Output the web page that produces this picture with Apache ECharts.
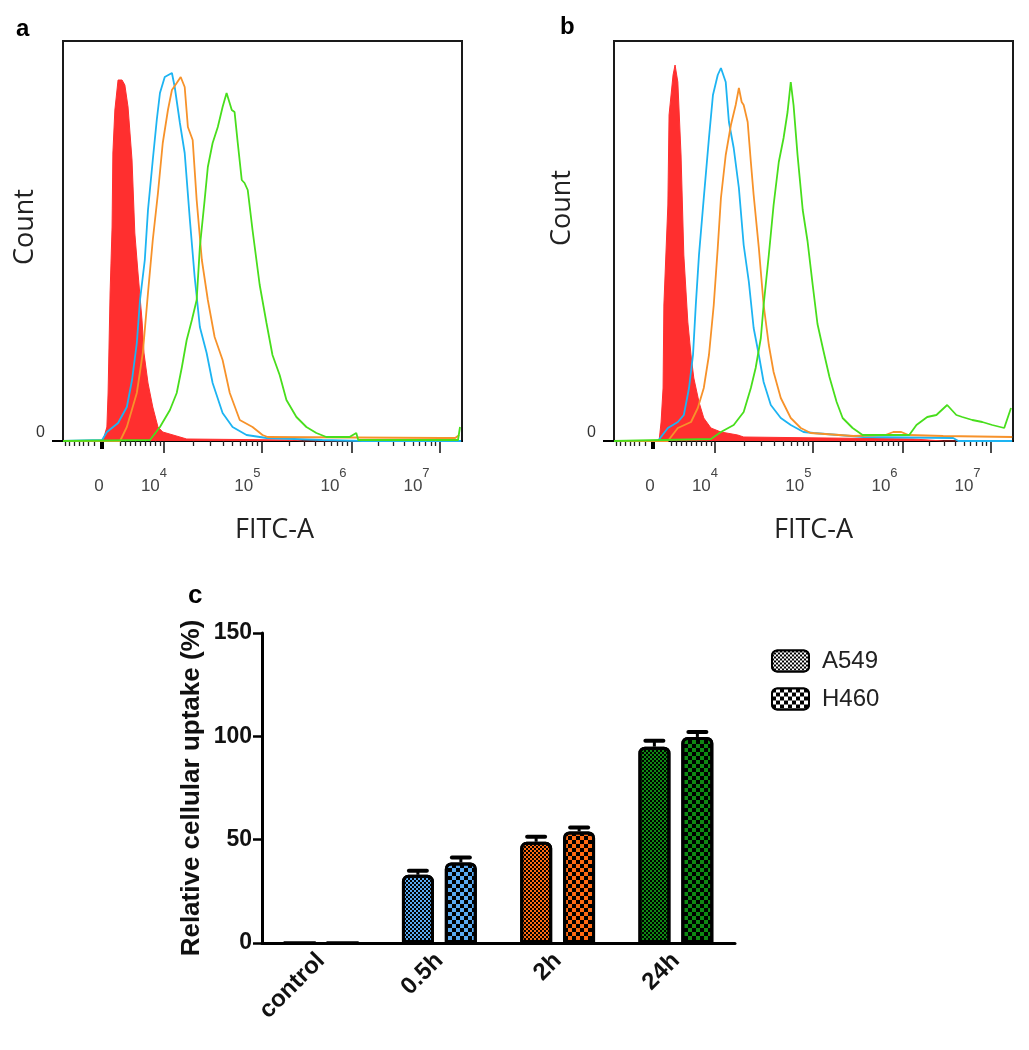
<!DOCTYPE html>
<html><head><meta charset="utf-8">
<script src="https://cdn.jsdelivr.net/npm/echarts@6/dist/echarts.min.js"></script>
<style>html,body{margin:0;padding:0;background:#fff}#c{width:1029px;height:1050px}</style>
</head><body><div id="c"></div>
<script>
// ---- Flow cytometry histograms: [FITC-A channel (display scale 0-1000), count] ----
const ctrlA = [[0,0],[100,0],[110,14],[113,48],[118,148],[123,214],[125,288],[130,331],[138,361],[148,361],[155,356],[163,334],[173,281],[180,208],[188,168],[198,121],[203,88],[213,58],[225,34],[238,14],[250,9],[293,4],[310,2],[575,1],[600,0],[998,0]];
const halfHA = [[0,0],[98,1],[110,9],[138,18],[160,34],[173,61],[185,98],[193,141],[205,181],[213,231],[225,281],[235,321],[243,348],[255,364],[273,368],[280,354],[293,318],[305,288],[318,221],[330,164],[343,114],[360,88],[375,58],[400,28],[425,14],[460,6],[510,3],[650,1],[750,0],[998,0]];
const twoHA = [[0,0],[143,0],[160,14],[185,48],[200,88],[213,148],[225,201],[238,248],[250,298],[263,331],[273,351],[285,358],[295,364],[305,354],[313,314],[325,301],[335,241],[348,181],[363,141],[380,104],[400,81],[418,48],[443,21],[475,14],[500,6],[513,4],[950,3],[983,3],[993,6]];
const dayA = [[0,0],[218,1],[243,14],[268,31],[285,48],[298,74],[310,101],[323,121],[335,141],[343,194],[355,241],[363,274],[375,298],[388,314],[400,334],[410,348],[423,331],[430,329],[438,298],[448,261],[455,258],[463,251],[475,211],[493,156],[510,118],[525,86],[543,66],[560,41],[585,24],[610,14],[635,8],[660,4],[718,4],[735,8],[740,1],[990,1],[995,14]];

const ctrlB = [[0,0],[113,0],[118,19],[123,53],[125,136],[135,236],[138,326],[148,366],[153,376],[160,359],[168,286],[175,186],[185,119],[193,86],[200,63],[213,39],[225,23],[243,13],[268,9],[310,6],[325,4],[750,2],[825,0],[998,0]];
const halfHB = [[0,0],[110,0],[135,13],[160,19],[175,26],[188,53],[198,86],[205,136],[213,186],[225,243],[238,303],[248,346],[260,366],[268,373],[280,359],[288,319],[300,293],[313,253],[325,196],[338,159],[350,113],[363,86],[375,59],[393,36],[418,23],[443,16],[475,9],[500,8],[625,4],[850,3],[863,0],[998,0]];
const twoHB = [[0,0],[135,0],[160,13],[193,19],[210,33],[225,53],[238,86],[250,136],[260,193],[268,243],[280,286],[293,316],[305,336],[313,353],[320,339],[325,336],[335,319],[343,279],[350,246],[363,193],[375,136],[388,96],[400,69],[418,43],[443,23],[468,13],[493,8],[600,5],[680,6],[700,9],[720,9],[738,6],[825,5],[998,4]];
const dayB = [[0,0],[243,2],[268,9],[300,16],[325,29],[343,53],[355,73],[368,103],[375,136],[388,186],[400,236],[413,279],[425,303],[435,329],[443,359],[450,336],[460,286],[473,231],[485,200],[498,156],[510,117],[525,90],[540,64],[558,39],[573,23],[598,13],[623,6],[740,6],[758,16],[785,24],[808,26],[835,36],[858,26],[873,24],[898,21],[923,19],[948,16],[978,13],[995,33]];

// ---- FITC-A axis ticks / labels (display-scale positions) ----
const xZeroTick = [97];
const xMajorTicks = [253, 498, 723, 943];
const xMinorTicks = [5,15,28,40,52,64,78,143,155,168,180,193,205,218,230,243,327,370,401,424,444,460,474,486,566,605,633,655,673,688,701,712,789,828,855,877,894,909,922,933];
const xLabelPos = [90, 228, 462, 678, 886];
const xLabelBase = ['0','10','10','10','10'];
const xLabelExp = ['','4','5','6','7'];
const countTicks = [0];

// ---- Panel c: relative cellular uptake ----
const categories = ['control','0.5h','2h','24h'];
const a549 = [0, 33, 49, 95];
const h460 = [0, 39, 54, 99.7];
const a549Err = [0, 2, 2.4, 2.9];
const h460Err = [0, 2.4, 1.9, 2.4];

const catColors = ['#5aaaf2', '#5aaaf2', '#ff6a12', '#0e8a12'];
const RED = '#ff2f2f', BLUE = '#1db4f2', ORANGE = '#f7922a', GREEN = '#48de1c';

const chart = echarts.init(document.getElementById('c'), null, {renderer: 'canvas'});

function histAxes(grid, namePad) {
  const labelFmt = (v) => {
    const i = xLabelPos.indexOf(v);
    if (i < 0) return '';
    return '{m|' + xLabelBase[i] + '}' + (xLabelExp[i] ? '{s|' + xLabelExp[i] + '}' : '');
  };
  return [
    { gridIndex: grid, type: 'value', min: 0, max: 1000, position: 'bottom',
      name: 'FITC-A', nameLocation: 'middle', nameGap: 76, nameMoveOverlap: false,
      nameTextStyle: {fontFamily: 'Open Sans', fontSize: 27, color: '#222', padding: [0, 0, 0, namePad]},
      axisLine: {show: true, onZero: false, lineStyle: {color: '#000', width: 2}},
      axisTick: {show: true, customValues: xMajorTicks, length: 12, lineStyle: {color: '#111', width: 1.5}},
      axisLabel: {show: true, customValues: xLabelPos, formatter: labelFmt, margin: 26,
        rich: {
          m: {fontFamily: 'Liberation Sans', fontSize: 17, color: '#444', lineHeight: 28, verticalAlign: 'bottom'},
          s: {fontFamily: 'Liberation Sans', fontSize: 13, color: '#444', lineHeight: 28, verticalAlign: 'top'}
        }},
      splitLine: {show: false} },
    { gridIndex: grid, type: 'value', min: 0, max: 1000, position: 'bottom',
      axisLine: {show: false},
      axisTick: {show: true, customValues: xMinorTicks, length: 5, lineStyle: {color: '#222', width: 1.3}},
      axisLabel: {show: false}, splitLine: {show: false} },
    { gridIndex: grid, type: 'value', min: 0, max: 1000, position: 'bottom',
      axisLine: {show: false},
      axisTick: {show: true, customValues: xZeroTick, length: 8, lineStyle: {color: '#000', width: 4}},
      axisLabel: {show: false}, splitLine: {show: false} }
  ];
}

function histY(grid, gap, pad) {
  return { gridIndex: grid, type: 'value', min: 0, max: 400,
    name: 'Count', nameLocation: 'middle', nameGap: gap, nameRotate: 90, nameMoveOverlap: false,
    nameTextStyle: {fontFamily: 'Open Sans', fontSize: 27, color: '#222', padding: [0, 0, 0, pad]},
    axisLine: {show: false},
    axisTick: {show: true, customValues: countTicks, length: 11, lineStyle: {color: '#000', width: 2}},
    axisLabel: {show: true, customValues: countTicks, formatter: (v) => String(v), margin: 18,
      verticalAlign: 'bottom', fontFamily: 'Liberation Sans', fontSize: 16, color: '#333'},
    splitLine: {show: false} };
}

function histSeries(xi, yi, data, color, fill) {
  const s = { type: 'line', xAxisIndex: xi, yAxisIndex: yi, data: data, symbol: 'none',
    silent: true, animation: false,
    lineStyle: {color: color, width: fill ? 1 : 1.8}, itemStyle: {color: color} };
  if (fill) s.areaStyle = {color: color, opacity: 1};
  return s;
}

function errBar(off) {
  return function (params, api) {
    const err = api.value(2);
    if (!err) return null;
    const base = api.coord([api.value(0), api.value(1)]);
    const top = api.coord([api.value(0), api.value(1) + err]);
    const x = base[0] + off;
    return { type: 'group', children: [
      {type: 'line', shape: {x1: x, y1: base[1], x2: x, y2: top[1]}, style: {stroke: '#000', lineWidth: 3}},
      {type: 'line', shape: {x1: x - 9, y1: top[1], x2: x + 9, y2: top[1]}, style: {stroke: '#000', lineWidth: 4, lineCap: 'round'}}
    ]};
  };
}

const fineDecal = {symbol: 'rect', symbolSize: 1, color: '#000', dashArrayX: [[2, 2], [0, 2, 2, 0]], dashArrayY: [2, 0]};
const coarseDecal = {symbol: 'rect', symbolSize: 1, color: '#000', dashArrayX: [[4, 4], [0, 4, 4, 0]], dashArrayY: [4, 0]};

const option = {
  animation: false,
  backgroundColor: '#fff',
  title: [
    {text: 'a', left: 11, top: 12, textStyle: {fontFamily: 'Liberation Sans', fontSize: 24, fontWeight: 'bold', color: '#000'}},
    {text: 'b', left: 555, top: 10, textStyle: {fontFamily: 'Liberation Sans', fontSize: 24, fontWeight: 'bold', color: '#000'}},
    {text: 'c', left: 183, top: 578, textStyle: {fontFamily: 'Liberation Sans', fontSize: 26, fontWeight: 'bold', color: '#000'}}
  ],
  grid: [
    {left: 63, top: 41, width: 399, height: 400, show: true, borderColor: '#1a1a1a', borderWidth: 2, containLabel: false},
    {left: 614, top: 41, width: 399, height: 400, show: true, borderColor: '#1a1a1a', borderWidth: 2, containLabel: false},
    {left: 262, top: 633, width: 473, height: 310, containLabel: false}
  ],
  legend: {
    orient: 'vertical', left: 766, top: 644, itemGap: 14, itemWidth: 37, itemHeight: 21,
    icon: 'roundRect',
    textStyle: {fontFamily: 'Liberation Sans', fontSize: 24, color: '#222', padding: [0, 0, 0, 8]},
    data: [
      {name: 'A549', itemStyle: {color: '#000', borderColor: '#000', decal: Object.assign({}, fineDecal, {color: '#fff'})}},
      {name: 'H460', itemStyle: {color: '#000', borderColor: '#000', decal: Object.assign({}, coarseDecal, {color: '#fff'})}}
    ]
  },
  xAxis: [
    ...histAxes(0, 24),
    ...histAxes(1, 0),
    { gridIndex: 2, type: 'category', data: categories, boundaryGap: true,
      axisLine: {lineStyle: {color: '#000', width: 3}},
      axisTick: {alignWithLabel: true, length: 11, lineStyle: {color: '#000', width: 2.5}},
      axisLabel: {rotate: 45, margin: 14, fontFamily: 'Liberation Sans', fontWeight: 'bold', fontSize: 24, color: '#111'} }
  ],
  yAxis: [
    histY(0, 24, 28),
    histY(1, 38, 66),
    { gridIndex: 2, type: 'value', min: 0, max: 150, interval: 50,
      name: 'Relative cellular uptake (%)', nameLocation: 'middle', nameGap: 57, nameRotate: 90,
      nameTextStyle: {fontFamily: 'Liberation Sans', fontWeight: 'bold', fontSize: 26, color: '#111'},
      axisLine: {show: true, lineStyle: {color: '#000', width: 3}},
      axisTick: {show: true, length: 9, lineStyle: {color: '#000', width: 2.5}},
      axisLabel: {margin: 10, fontFamily: 'Liberation Sans', fontWeight: 'bold', fontSize: 23, color: '#111'},
      splitLine: {show: false} }
  ],
  series: [
    histSeries(0, 0, ctrlA, RED, true),
    histSeries(0, 0, halfHA, BLUE, false),
    histSeries(0, 0, twoHA, ORANGE, false),
    histSeries(0, 0, dayA, GREEN, false),
    histSeries(3, 1, ctrlB, RED, true),
    histSeries(3, 1, halfHB, BLUE, false),
    histSeries(3, 1, twoHB, ORANGE, false),
    histSeries(3, 1, dayB, GREEN, false),
    { name: 'A549', type: 'bar', xAxisIndex: 6, yAxisIndex: 2, barWidth: 32, barGap: '34%',
      itemStyle: {color: '#000', borderColor: '#000', borderWidth: 3, borderRadius: [5, 5, 0, 0], decal: fineDecal},
      data: a549.map((v, i) => ({value: v, itemStyle: {color: catColors[i]}})) },
    { name: 'H460', type: 'bar', xAxisIndex: 6, yAxisIndex: 2, barWidth: 32, barGap: '34%',
      itemStyle: {color: '#000', borderColor: '#000', borderWidth: 3, borderRadius: [5, 5, 0, 0], decal: coarseDecal},
      data: h460.map((v, i) => ({value: v, itemStyle: {color: catColors[i]}})) },
    { type: 'custom', xAxisIndex: 6, yAxisIndex: 2, z: 5, renderItem: errBar(-21.5), encode: {x: 0, y: 1},
      data: a549.map((v, i) => [i, v, a549Err[i]]) },
    { type: 'custom', xAxisIndex: 6, yAxisIndex: 2, z: 5, renderItem: errBar(21.5), encode: {x: 0, y: 1},
      data: h460.map((v, i) => [i, v, h460Err[i]]) }
  ]
};
chart.setOption(option);
</script>
</body></html>
